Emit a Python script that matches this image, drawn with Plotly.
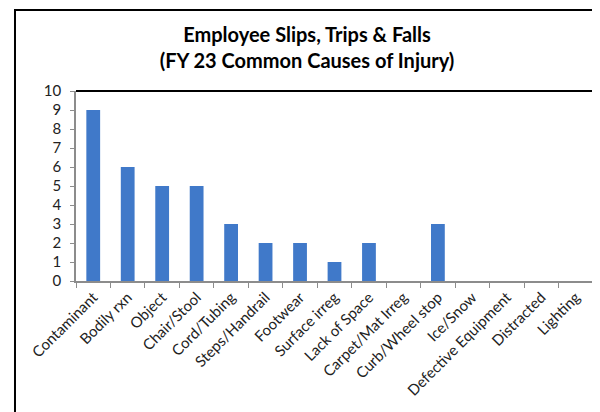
import plotly.graph_objects as go

causes = [
    "Contaminant", "Bodily rxn", "Object", "Chair/Stool", "Cord/Tubing",
    "Steps/Handrail", "Footwear", "Surface irreg", "Lack of Space",
    "Carpet/Mat Irreg", "Curb/Wheel stop", "Ice/Snow", "Defective Equipment",
    "Distracted", "Lighting",
]
counts = [9, 6, 5, 5, 3, 2, 2, 1, 2, 0, 3, 0, 0, 0, 0]

FONT = "Lato, Calibri, sans-serif"
AXIS_GREY = "#8c8c8c"

fig = go.Figure()

fig.add_trace(go.Bar(
    x=causes, y=counts,
    marker=dict(color="#4079C9", line=dict(width=0)),
    showlegend=False,
))

# chart outer frame + plot-area top/right border (Excel style)
fig.add_shape(type="rect", xref="paper", yref="paper",
              x0=-0.118, x1=1.03, y0=-0.75, y1=1.426,
              line=dict(color="black", width=2), layer="below")
fig.add_shape(type="line", xref="paper", yref="paper",
              x0=0, x1=1, y0=1, y1=1, line=dict(color="black", width=2))
fig.add_shape(type="line", xref="paper", yref="paper",
              x0=1, x1=1, y0=0, y1=1, line=dict(color="black", width=2))

# page body has an 8px margin, so the figure is 8px smaller than the window
fig.update_layout(
    width=592, height=404,
    margin=dict(l=68, r=7, t=83, b=131, autoexpand=False),
    paper_bgcolor="white", plot_bgcolor="white",
    font=dict(family=FONT, size=15, color="#222"),
    title=dict(
        text="<b>Employee Slips, Trips & Falls<br>(FY 23 Common Causes of Injury)</b>",
        x=299 / 592, xanchor="center", y=0.915, yanchor="top",
        font=dict(family=FONT, size=20, color="black"),
    ),
    bargap=0.6,
    xaxis=dict(
        automargin=False,
        showline=True, linecolor=AXIS_GREY, linewidth=1.5,
        ticks="outside", tickson="boundaries", ticklen=5, tickcolor=AXIS_GREY,
        tickangle=-45, showgrid=False, tickfont=dict(size=15),
    ),
    yaxis=dict(
        automargin=False,
        range=[0, 10], dtick=1,
        showline=True, linecolor=AXIS_GREY, linewidth=1.5,
        ticks="outside", ticklen=4, tickcolor=AXIS_GREY,
        ticklabelstandoff=6,
        showgrid=False, zeroline=False, tickfont=dict(size=15),
    ),
)

fig.write_html("out.html")
